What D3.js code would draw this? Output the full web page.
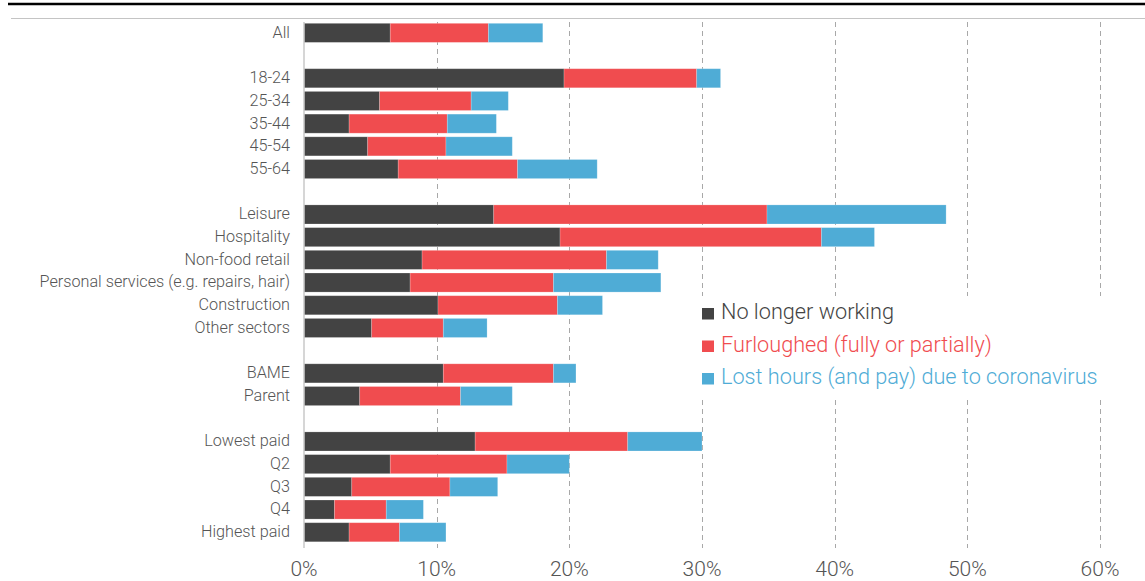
<!DOCTYPE html>
<html>
<head>
<meta charset="utf-8">
<style>
    body { margin: 0; background: #fff; }
    svg { display: block; font-family: Roboto, "Open Sans", sans-serif; }
</style>
</head>
<body>
<script src="https://cdn.jsdelivr.net/npm/d3@7"></script>
<script>
// rows, top to bottom
var categories = ["All",
    "18-24", "25-34", "35-44", "45-54", "55-64",
    "Leisure", "Hospitality", "Non-food retail", "Personal services (e.g. repairs, hair)", "Construction", "Other sectors",
    "BAME", "Parent",
    "Lowest paid", "Q2", "Q3", "Q4", "Highest paid"]
// a blank row is left before each of these
var groupStarts = ["18-24", "Leisure", "BAME", "Lowest paid"]

// percentage points per segment
var noLongerWorking = [6.5, 19.6, 5.7, 3.4, 4.8, 7.1, 14.3, 19.3, 8.9, 8.0, 10.1, 5.1, 10.5, 4.2, 12.9, 6.5, 3.6, 2.3, 3.4]
var furloughed      = [7.4, 10.0, 6.9, 7.4, 5.9, 9.0, 20.6, 19.7, 13.9, 10.8, 9.0, 5.4, 8.3, 7.6, 11.5, 8.8, 7.4, 3.9, 3.8]
var lostHours       = [4.1, 1.8, 2.8, 3.7, 5.0, 6.0, 13.5, 4.0, 3.9, 8.1, 3.4, 3.3, 1.7, 3.9, 5.6, 4.7, 3.6, 2.8, 3.5]

var seriesNames = ["No longer working", "Furloughed (fully or partially)", "Lost hours (and pay) due to coronavirus"]
var seriesColors = ["#434343", "#f04c4f", "#4facd6"]
var xTicks = [0, 10, 20, 30, 40, 50, 60]

var width = 1145, height = 581

var rows = categories.map((c, i) => ({
    name: c,
    values: [noLongerWorking[i], furloughed[i], lostHours[i]]
}))

// band domain including the blank slots
var slots = []
categories.forEach((c, i) => {
    if (groupStarts.includes(c)) slots.push("gap-" + i)
    slots.push(c)
})

var x = d3.scaleLinear().domain([0, 60]).range([304, 1100])
var y = d3.scaleBand()
    .domain(slots)
    .range([21.5, 543.6])
    .paddingInner(0.16)
    .paddingOuter(0.08)

var svg = d3.select("body").append("svg")
    .attr("width", width)
    .attr("height", height)

// rules at the top
svg.append("line")
    .attr("x1", 8).attr("x2", width)
    .attr("y1", 4).attr("y2", 4)
    .attr("stroke", "#000").attr("stroke-width", 2.5)
svg.append("line")
    .attr("x1", 11).attr("x2", width)
    .attr("y1", 18.5).attr("y2", 18.5)
    .attr("stroke", "#c4c4c4").attr("stroke-width", 1)

// dashed gridlines
svg.selectAll(".grid")
    .data(xTicks.filter(d => d > 0))
    .enter().append("line")
    .attr("class", "grid")
    .attr("x1", d => Math.round(x(d)) + 0.5)
    .attr("x2", d => Math.round(x(d)) + 0.5)
    .attr("y1", 22).attr("y2", 548)
    .attr("stroke", "#a8a8a8")
    .attr("stroke-dasharray", "5,4")

// bars
var stacked = rows.map(r => {
    var acc = 0
    return r.values.map((v, k) => {
        var seg = {name: r.name, k: k, x0: acc, x1: acc + v}
        acc += v
        return seg
    })
}).flat()

svg.selectAll(".bar")
    .data(stacked)
    .enter().append("rect")
    .attr("class", "bar")
    .attr("x", d => x(d.x0))
    .attr("y", d => y(d.name))
    .attr("width", d => x(d.x1) - x(d.x0))
    .attr("height", y.bandwidth())
    .attr("fill", d => seriesColors[d.k])
    .attr("stroke", "#fff")
    .attr("stroke-opacity", 0.25)
    .attr("stroke-width", 0.8)

// zero line
svg.append("line")
    .attr("x1", x(0)).attr("x2", x(0))
    .attr("y1", 22).attr("y2", 548)
    .attr("stroke", "#c8c8c8").attr("stroke-width", 1.5)

// category labels
svg.selectAll(".cat")
    .data(categories)
    .enter().append("text")
    .attr("class", "cat")
    .attr("x", 290)
    .attr("y", d => y(d) + y.bandwidth() / 2)
    .attr("dy", "0.3em")
    .attr("text-anchor", "end")
    .attr("font-size", 16.2)
    .attr("font-weight", 300)
    .attr("fill", "#555")
    .text(d => d)

// x axis labels
svg.selectAll(".xtick")
    .data(xTicks)
    .enter().append("text")
    .attr("class", "xtick")
    .attr("x", d => x(d))
    .attr("y", 576)
    .attr("text-anchor", "middle")
    .attr("font-size", 21)
    .attr("font-weight", 300)
    .attr("fill", "#555")
    .text(d => d + "%")

// legend box hides the gridlines behind it
svg.append("rect")
    .attr("x", 690).attr("y", 296)
    .attr("width", width - 690).attr("height", 102)
    .attr("fill", "#fff")

var legend = svg.selectAll(".legend")
    .data(seriesNames)
    .enter().append("g")
    .attr("class", "legend")
    .attr("transform", (d, i) => `translate(702, ${319 + i * 32.5})`)

legend.append("rect")
    .attr("x", 0).attr("y", -11)
    .attr("width", 12).attr("height", 11.5)
    .attr("fill", (d, i) => seriesColors[i])

legend.append("text")
    .attr("x", 19)
    .attr("y", 0)
    .attr("font-size", 21.7)
    .attr("font-weight", 300)
    .attr("fill", (d, i) => seriesColors[i])
    .text(d => d)
</script>
</body>
</html>
